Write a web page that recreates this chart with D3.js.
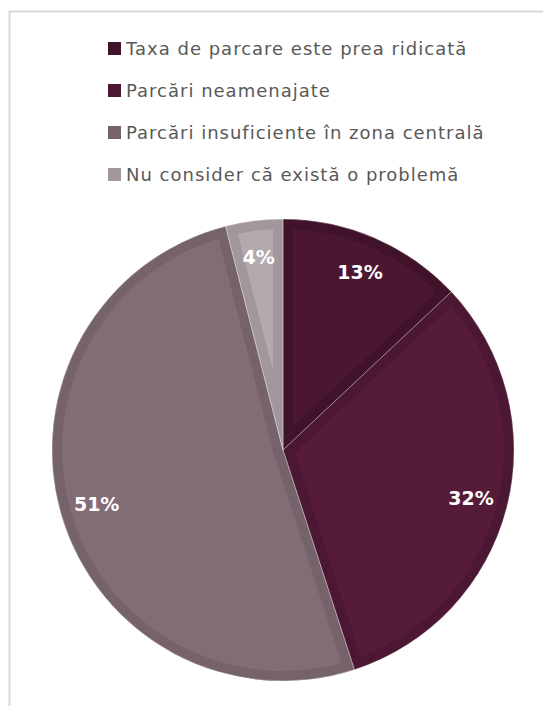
<!DOCTYPE html>
<html>
<head>
<meta charset="utf-8">
<script src="https://cdn.jsdelivr.net/npm/d3@7"></script>
<style>
  body { margin: 0; background: #fff; }
  svg text { font-family: "DejaVu Sans", sans-serif; }
</style>
</head>
<body>
<div class="chart"></div>
<script>
'use strict';

// Data
const categories = [
  "Taxa de parcare este prea ridicată",
  "Parcări neamenajate",
  "Parcări insuficiente în zona centrală",
  "Nu consider că există o problemă"
];
const values = [13, 32, 51, 4];
const fillColors = ["#4a1630", "#571b3a", "#826c75", "#b4a9ae"];
const edgeColors = ["#40132a", "#4b1732", "#76626b", "#a2979c"];

document.addEventListener('DOMContentLoaded', () => {
  const W = 543, H = 706;
  const cx = 283, cy = 450, r = 231;

  const svg = d3.select(".chart")
    .append("svg")
    .attr("width", W)
    .attr("height", H);

  // frame (top and left edges visible)
  svg.append("path")
    .attr("d", `M9.5,${H} V11.5 H${W}`)
    .attr("fill", "none")
    .attr("stroke", "#d9d9d9")
    .attr("stroke-width", 2);

  // legend
  const legend = svg.append("g")
    .attr("id", "legend")
    .selectAll("g")
    .data(categories)
    .enter()
    .append("g")
    .attr("transform", (d, i) => `translate(108, ${42 + i * 42})`);
  legend.append("rect")
    .attr("width", 13)
    .attr("height", 13)
    .attr("fill", (d, i) => edgeColors[i]);
  legend.append("text")
    .attr("x", 18)
    .attr("y", 13)
    .style("font-size", "18px")
    .style("letter-spacing", "1px")
    .attr("fill", "#595959")
    .text(d => d);

  // pie
  const pie = d3.pie().sort(null).value(d => d);
  const arcs = pie(values);
  const arc = d3.arc().innerRadius(0).outerRadius(r);

  const g = svg.append("g")
    .attr("transform", `translate(${cx},${cy})`);

  const defs = svg.append("defs");
  arcs.forEach((a, i) => {
    defs.append("clipPath")
      .attr("id", "clip" + i)
      .append("path")
      .attr("d", arc(a));
  });

  const slices = g.selectAll("g.slice")
    .data(arcs)
    .enter()
    .append("g")
    .attr("class", "slice");
  slices.append("path")
    .attr("d", arc)
    .attr("fill", (d, i) => fillColors[i])
    .attr("stroke", (d, i) => edgeColors[i])
    .attr("stroke-width", 20)
    .attr("clip-path", (d, i) => `url(#clip${i})`);
  slices.append("path")
    .attr("d", arc)
    .attr("fill", "none")
    .attr("stroke", "#ffffff")
    .attr("stroke-opacity", 0.35)
    .attr("stroke-width", 1);

  // value labels
  const labelArc = d3.arc().innerRadius(r * 0.84).outerRadius(r * 0.84);
  g.selectAll("text.label")
    .data(arcs)
    .enter()
    .append("text")
    .attr("class", "label")
    .attr("transform", d => `translate(${labelArc.centroid(d)})`)
    .attr("text-anchor", "middle")
    .attr("dy", "0.35em")
    .attr("fill", "#ffffff")
    .style("font-size", "19px")
    .style("font-weight", "bold")
    .text(d => d.data + "%");
});
</script>
</body>
</html>
